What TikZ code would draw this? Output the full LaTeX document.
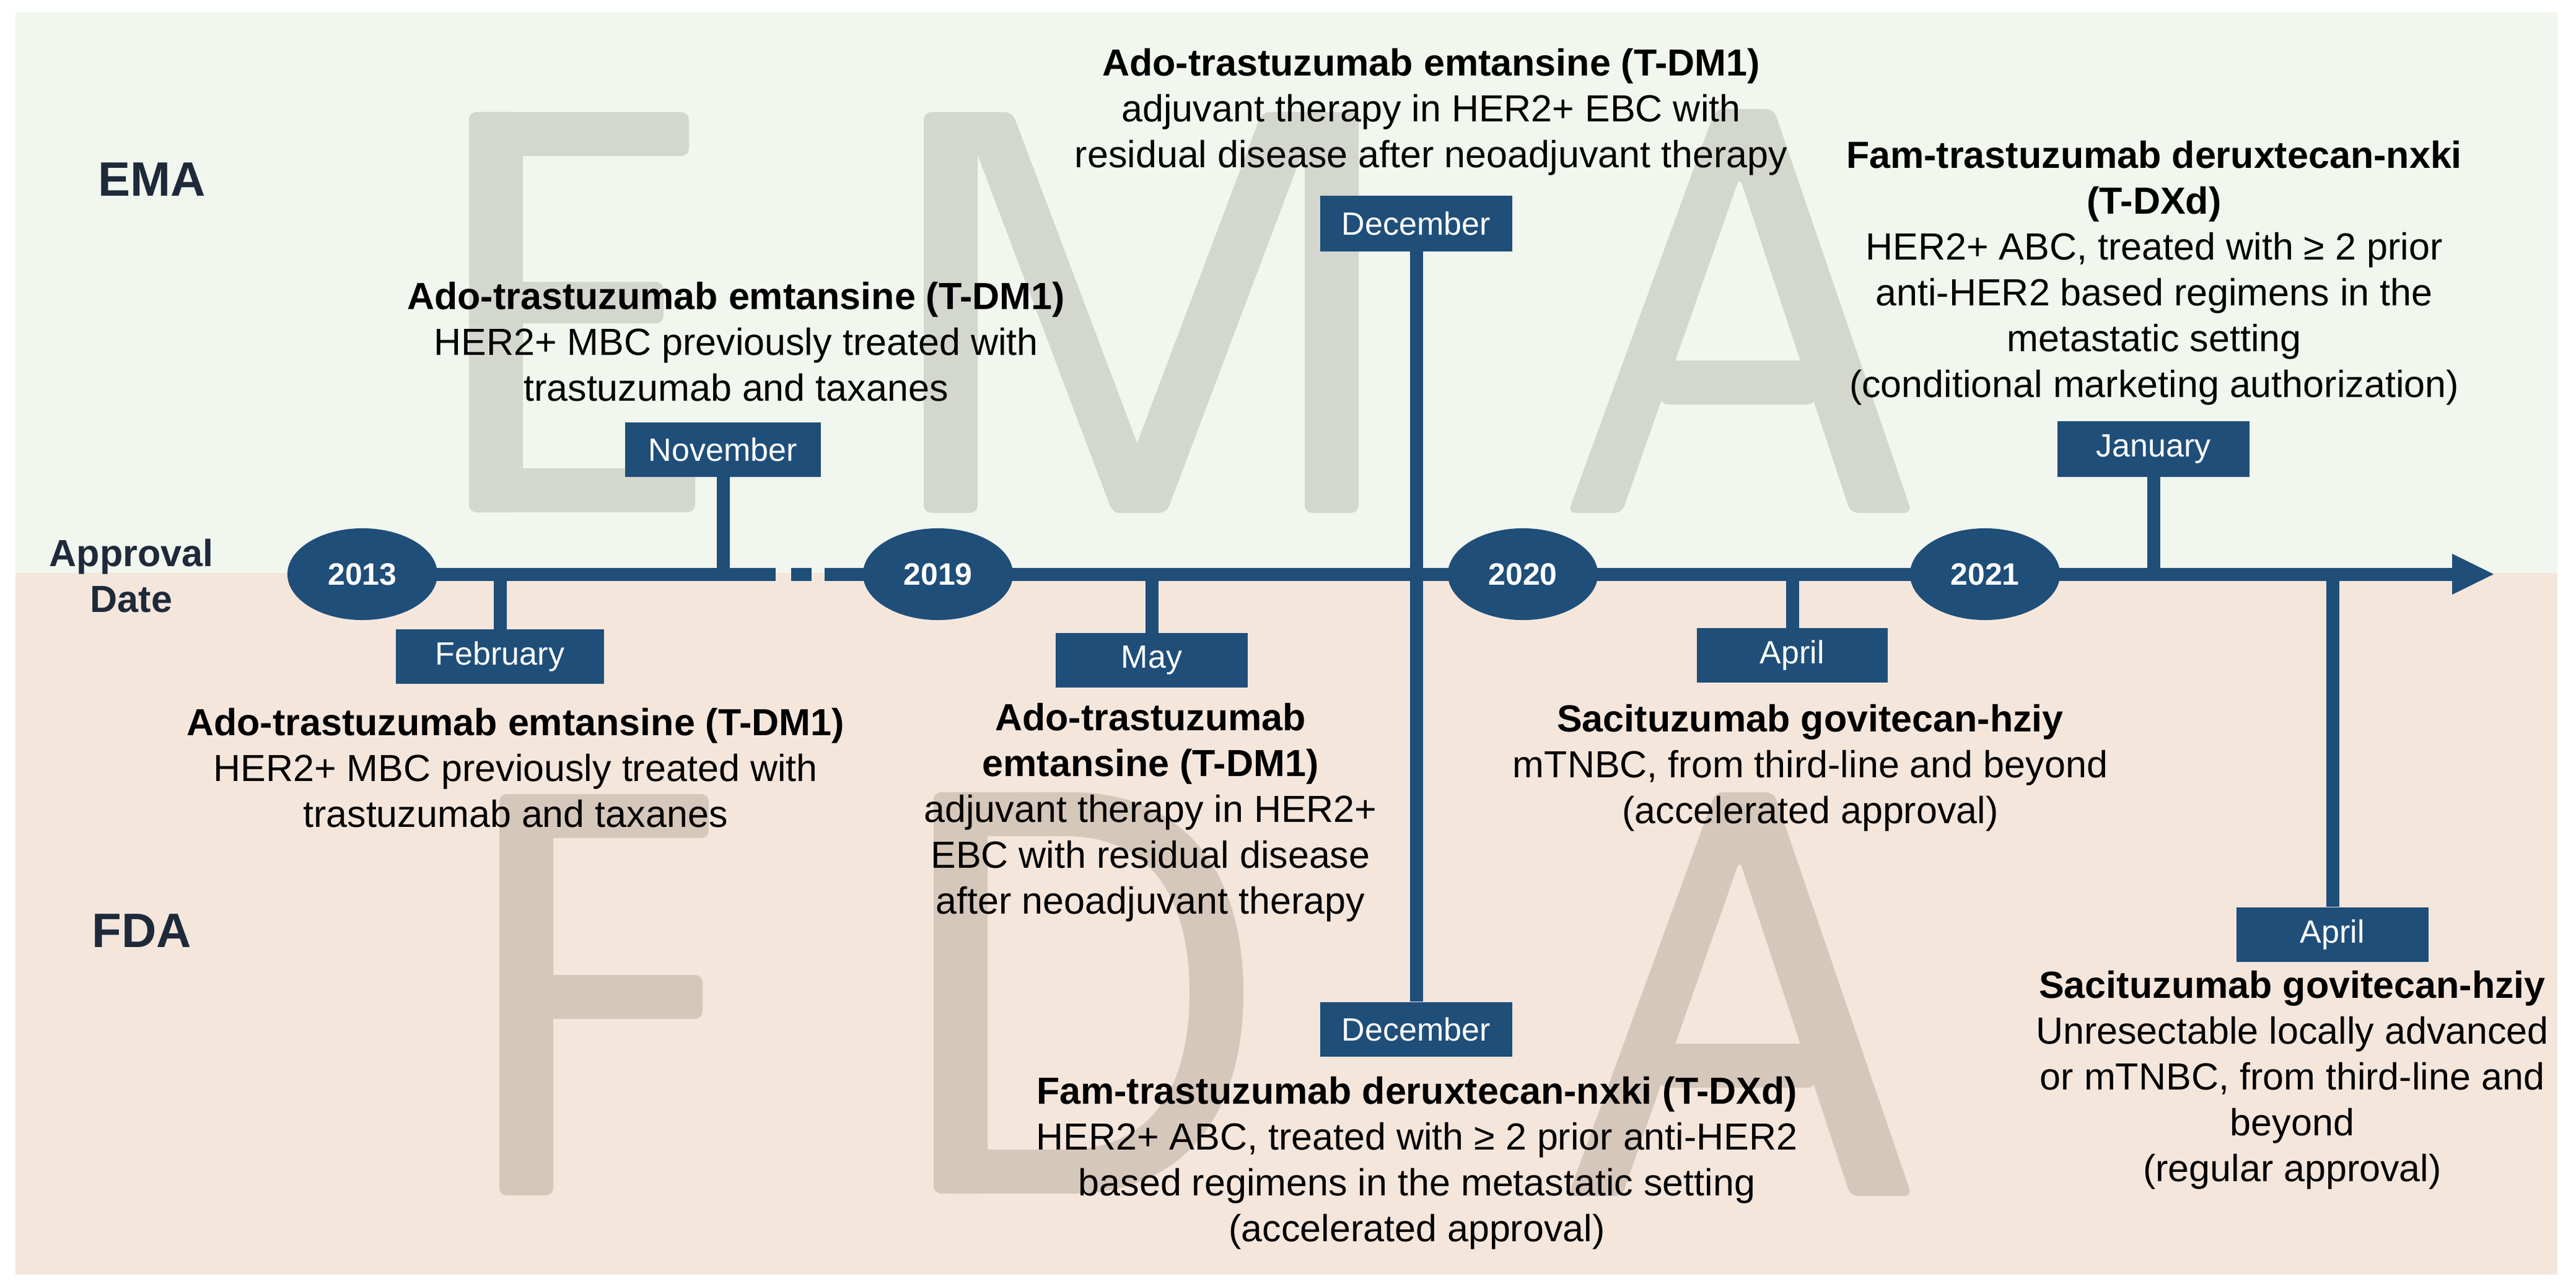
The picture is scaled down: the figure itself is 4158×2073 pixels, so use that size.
\documentclass[tikz,border=0pt]{standalone}
\usepackage{fontspec}
\setmainfont{Liberation Sans}
\usetikzlibrary{shapes.geometric}
\definecolor{navy}{HTML}{1F4E79}
\definecolor{emabg}{HTML}{F1F6EE}
\definecolor{fdabg}{HTML}{F5E6DC}
\definecolor{emawm}{HTML}{D3D7CE}
\definecolor{fdawm}{HTML}{D6C7BB}
\definecolor{labelc}{HTML}{1E2A3A}
\newcommand\bodyfs{\fontsize{17.36pt}{21.06pt}\selectfont}
\newcommand\monthfs{\fontsize{14.8pt}{17pt}\selectfont}
\newcommand\yearfs{\fontsize{14.2pt}{17pt}\selectfont\bfseries}
\newcommand\regfs{\fontsize{22.2pt}{26pt}\selectfont\bfseries}
\begin{document}
\begin{tikzpicture}[x=0.01cm,y=-0.01cm,
  axis/.style={navy,line width=2.1mm},
  tickline/.style={navy,line width=2.1mm},
  monthbox/.style={rectangle,fill=navy,text=white,font=\monthfs,minimum width=3.1cm,minimum height=0.87cm,inner sep=0pt},
  yearnode/.style={ellipse,fill=navy,text=white,font=\yearfs,minimum width=2.42cm,minimum height=1.48cm,inner sep=0pt},
  desc/.style={align=center,font=\bodyfs,inner sep=0pt,text=black},
  region/.style={font=\regfs,text=labelc,inner sep=0pt},
  wmE/.style={fill=emawm,rounded corners=1.2mm},
  wmF/.style={fill=fdawm,rounded corners=1.2mm}]
\useasboundingbox (0,0) rectangle (4158,2073);
\fill[white] (0,0) rectangle (4158,2073);
\fill[emabg] (25,20) rectangle (4128,925);
\fill[fdabg] (25,925) rectangle (4128,2058);
% ---- EMA watermark ----
% E
\fill[wmE] (757,181) rectangle (844,827);
\fill[wmE] (757,181) rectangle (1112,252);
\fill[wmE] (757,455) rectangle (1071,522);
\fill[wmE] (757,756) rectangle (1122,827);
% M
\fill[wmE] (1491,181) rectangle (1578,828);
\fill[wmE] (2106,181) rectangle (2193,828);
\fill[wmE] (1552,181) -- (1634,181) -- (1878,828) -- (1796,828) -- cycle;
\fill[wmE] (2037,181) -- (2127,181) -- (1883,828) -- (1793,828) -- cycle;
% A
\fill[wmE] (2531,828) -- (2769,176) -- (2863,176) -- (3086,828) -- (2987,828) -- (2808,286) -- (2618,828) -- cycle;
\fill[wmE] (2680,582) rectangle (2930,653);
% ---- FDA watermark ----
% F
\fill[wmF] (806,1282) rectangle (893,1930);
\fill[wmF] (806,1282) rectangle (1144,1353);
\fill[wmF] (806,1574) rectangle (1134,1645);
% D
\fill[wmF] (1507,1279) rectangle (1594,1927);
\fill[fdawm,even odd rule] (1540,1279) -- (1730,1279) .. controls (1905,1279) and (2007,1400) .. (2007,1603) .. controls (2007,1806) and (1905,1927) .. (1730,1927) -- (1540,1927) -- cycle
  (1580,1350) -- (1720,1350) .. controls (1850,1350) and (1920,1440) .. (1920,1603) .. controls (1920,1766) and (1850,1856) .. (1720,1856) -- (1580,1856) -- cycle;
% A
\fill[wmF] (2531,1931) -- (2769,1279) -- (2863,1279) -- (3086,1931) -- (2987,1931) -- (2808,1389) -- (2618,1931) -- cycle;
\fill[wmF] (2680,1685) rectangle (2930,1756);
% ---- timeline ----
\coordinate (c2013) at (585,927);
\coordinate (c2019) at (1514,927);
\coordinate (c2020) at (2458,927);
\coordinate (c2021) at (3204,927);
\coordinate (brkA) at (1252,927);
\coordinate (brkB) at (1331,927);
\coordinate (ahead) at (3962,927);
\coordinate (tip) at (4025,927);
\coordinate (ahU) at (3958,894);
\coordinate (ahL) at (3958,960);
\draw[axis] (c2013) -- (brkA);
\fill[navy] (1277,916.5) rectangle (1310,937.5);
\draw[axis] (brkB) -- (ahead);
\fill[navy] (ahU) -- (tip) -- (ahL) -- cycle;
% month boxes
\node[monthbox,minimum width=3.36cm] (feb) at (807,1060) {February};
\node[monthbox,minimum width=3.16cm] (nov) at (1167,726) {November};
\node[monthbox] (may) at (1859,1066) {May};
\node[monthbox,minimum height=0.89cm] (decE) at (2286,361) {December};
\node[monthbox,minimum height=0.88cm] (decF) at (2286,1662) {December};
\node[monthbox,minimum width=3.07cm] (aprA) at (2893,1058) {April};
\node[monthbox,minimum height=0.89cm] (jan) at (3476,725) {January};
\node[monthbox,minimum height=0.88cm] (aprB) at (3765,1509) {April};
% ticks
\coordinate (tFeb) at (807,927);
\coordinate (tNov) at (1167,927);
\coordinate (tMay) at (1859,927);
\coordinate (tAprA) at (2893,927);
\coordinate (tJan) at (3476,927);
\coordinate (tAprB) at (3765,927);
\draw[tickline] (tFeb) -- (feb.north);
\draw[tickline] (tNov) -- (nov.south);
\draw[tickline] (tMay) -- (may.north);
\draw[tickline] (decE.south) -- (decF.north);
\draw[tickline] (tAprA) -- (aprA.north);
\draw[tickline] (tJan) -- (jan.south);
\draw[tickline] (tAprB) -- (aprB.north);
% years
\node[yearnode] (y2013) at (c2013) {2013};
\node[yearnode] (y2019) at (c2019) {2019};
\node[yearnode] (y2020) at (c2020) {2020};
\node[yearnode] (y2021) at (c2021) {2021};
% region labels
\node[region] (ema) at (245,290) {EMA};
\node[region] (fda) at (229,1503) {FDA};
\node[desc,font=\bodyfs\bfseries,text=labelc] (appr) at (212,930) {Approval\\Date};
% descriptions
\node[desc] (txtNov) at (1188,552) {\textbf{Ado-trastuzumab emtansine (T-DM1)}\\HER2+ MBC previously treated with\\trastuzumab and taxanes};
\node[desc] (txtFeb) at (832,1240) {\textbf{Ado-trastuzumab emtansine (T-DM1)}\\HER2+ MBC previously treated with\\trastuzumab and taxanes};
\node[desc] (txtDecE) at (2310,181) {\textbf{Ado-trastuzumab emtansine (T-DM1)}\\adjuvant therapy in HER2+ EBC with\\residual disease after neoadjuvant therapy};
\node[desc] (txtMay) at (1857,1312) {\textbf{Ado-trastuzumab}\\\textbf{emtansine (T-DM1)}\\adjuvant therapy in HER2+\\EBC with residual disease\\after neoadjuvant therapy};
\node[desc] (txtAprA) at (2922,1240) {\textbf{Sacituzumab govitecan-hziy}\\mTNBC, from third-line and beyond\\(accelerated approval)};
\node[desc] (txtDecF) at (2287,1878) {\textbf{Fam-trastuzumab deruxtecan-nxki (T-DXd)}\\HER2+ ABC, treated with ≥ 2 prior anti-HER2\\based regimens in the metastatic setting\\(accelerated approval)};
\node[desc] (txtJan) at (3477,441) {\textbf{Fam-trastuzumab deruxtecan-nxki}\\\textbf{(T-DXd)}\\HER2+ ABC, treated with ≥ 2 prior\\anti-HER2 based regimens in the\\metastatic setting\\(conditional marketing authorization)};
\node[desc] (txtAprB) at (3700,1744) {\textbf{Sacituzumab govitecan-hziy}\\Unresectable locally advanced\\or mTNBC, from third-line and\\beyond\\(regular approval)};
\end{tikzpicture}
\end{document}
